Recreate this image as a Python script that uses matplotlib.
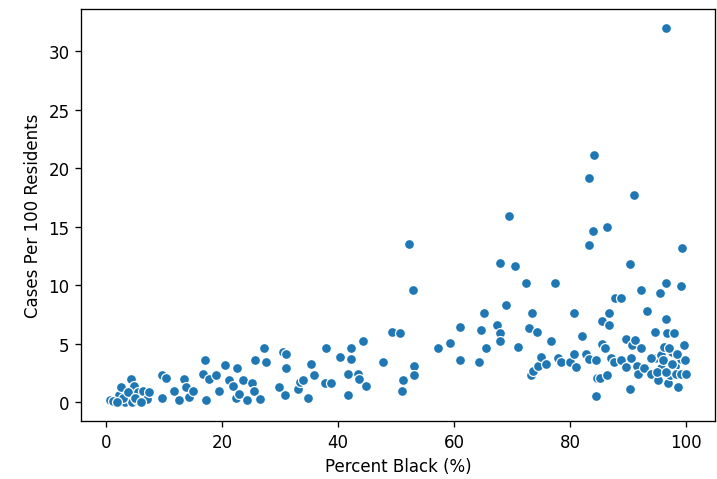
import matplotlib
matplotlib.use("Agg")
import matplotlib.pyplot as plt
import seaborn as sns
import pandas as pd

# Percent Black vs cases per 100 residents
pct_black = [
    0.7, 1.5, 2.3, 2.6, 3.4, 4.4, 4.2, 4.8, 4.6, 5.4, 5.6, 6.4, 7.1, 7.5,
    1.2, 3.0, 3.8, 5.0, 6.0, 2.0,
    9.7, 10.3, 9.7, 11.7, 12.6, 13.4, 13.8, 14.4, 15.1,
    17.1, 16.7, 17.2, 17.8, 19.0, 19.5, 20.6, 21.3, 22.0, 22.4, 22.6, 23.0,
    23.6, 24.3, 25.2, 25.6, 25.8, 26.6, 27.2, 27.6,
    29.8, 30.5, 31.1, 30.9, 31.1, 33.1, 33.5, 34.0, 34.8, 35.4, 35.8,
    38.0, 37.8, 38.9, 40.3, 41.7, 41.8, 42.3, 42.3, 43.4, 43.7, 44.4, 44.8,
    47.8, 49.4, 50.7, 51.0, 51.3, 52.3, 52.9, 53.2, 53.2,
    57.2, 59.4, 61.1, 61.1, 64.4, 64.6, 65.1, 65.6, 67.4, 68.0, 68.0, 68.0,
    69.5, 68.9, 70.6, 71.1, 72.4, 72.9, 73.2, 73.7, 73.4, 74.3, 74.5, 75.0,
    75.8, 76.8, 77.4, 77.9, 78.4, 80.0, 80.7, 80.7, 81.1, 82.0, 82.7,
    83.3, 83.3, 83.3, 83.9, 84.2, 84.5, 84.5, 84.7, 85.2, 85.5, 85.6, 86.0,
    86.3, 86.4, 86.8, 86.8, 87.0, 87.6, 87.8, 88.8, 88.8, 89.6, 89.7,
    90.3, 90.3, 90.5, 90.7, 91.1, 91.2, 91.5, 91.7, 92.3, 92.3, 92.7, 93.3,
    93.9, 94.7, 94.7, 95.1, 95.5, 95.7, 95.7, 96.0, 96.2, 96.6, 96.6, 96.6,
    96.8, 96.9, 97.3, 97.6, 97.9, 98.1, 98.3, 98.7, 99.1, 99.1, 99.2, 99.3,
    99.6, 99.8, 100.0,
    94.0, 97.0, 98.5, 95.0, 96.5, 97.6,
]
cases_per_100 = [
    0.15, 0.0, 0.6, 1.3, 0.0, 2.0, 0.6, 1.4, 0.0, 0.15, 0.9, 1.0, 0.3, 0.9,
    0.1, 0.35, 0.9, 0.4, 0.0, 0.05,
    2.3, 2.1, 0.35, 1.0, 0.15, 2.0, 1.3, 0.45, 1.0,
    3.6, 2.4, 0.15, 2.0, 2.3, 1.0, 3.2, 1.9, 1.4, 0.4, 2.9, 0.7,
    1.9, 0.15, 1.6, 1.0, 3.6, 0.3, 4.6, 3.4,
    1.3, 4.3, 4.1, 0.6, 2.9, 1.1, 1.7, 1.9, 0.35, 3.3, 2.3,
    4.6, 1.6, 1.6, 3.9, 2.4, 0.6, 4.6, 3.7, 2.4, 2.0, 5.2, 1.4,
    3.4, 6.0, 5.9, 1.0, 1.9, 13.5, 9.6, 3.1, 2.3,
    4.6, 5.1, 6.4, 3.6, 3.4, 6.2, 7.6, 4.6, 6.6, 5.9, 5.2, 11.9,
    15.9, 8.3, 11.6, 4.7, 10.2, 6.3, 2.3, 2.7, 7.6, 6.0, 3.1, 3.9,
    3.3, 5.2, 10.2, 3.8, 3.4, 3.4, 7.6, 4.1, 3.0, 5.7, 4.1,
    3.7, 19.2, 13.4, 14.6, 21.1, 3.6, 0.55, 2.1, 2.1, 6.9, 5.0, 4.6,
    2.3, 15.0, 6.6, 7.6, 3.8, 3.4, 8.9, 8.9, 3.6, 3.0, 5.4,
    11.8, 1.1, 3.8, 4.9, 17.7, 5.3, 3.1, 2.4, 9.6, 4.6, 2.9, 7.8,
    2.4, 6.0, 3.8, 1.9, 9.3, 4.0, 2.9, 3.6, 4.7, 7.1, 32.0, 10.2,
    5.9, 1.6, 2.3, 4.3, 5.9, 3.1, 2.4, 1.3, 3.7, 2.4, 9.9, 13.2,
    4.9, 3.6, 2.4,
    3.8, 4.6, 4.1, 2.6, 2.6, 3.3,
]

df = pd.DataFrame({"pct_black": pct_black, "cases": cases_per_100})

fig = plt.figure(figsize=(6, 4.0167), dpi=119.5)
ax = fig.add_axes([0.113, 0.121, 0.884, 0.858])
sns.scatterplot(x="pct_black", y="cases", data=df, ax=ax, color="#1f77b4",
                edgecolor="white", linewidth=0.75, s=36)
ax.set_xlabel("Percent Black (%)")
ax.set_ylabel("Cases Per 100 Residents")

fig.savefig("out.png", dpi=119.5)
